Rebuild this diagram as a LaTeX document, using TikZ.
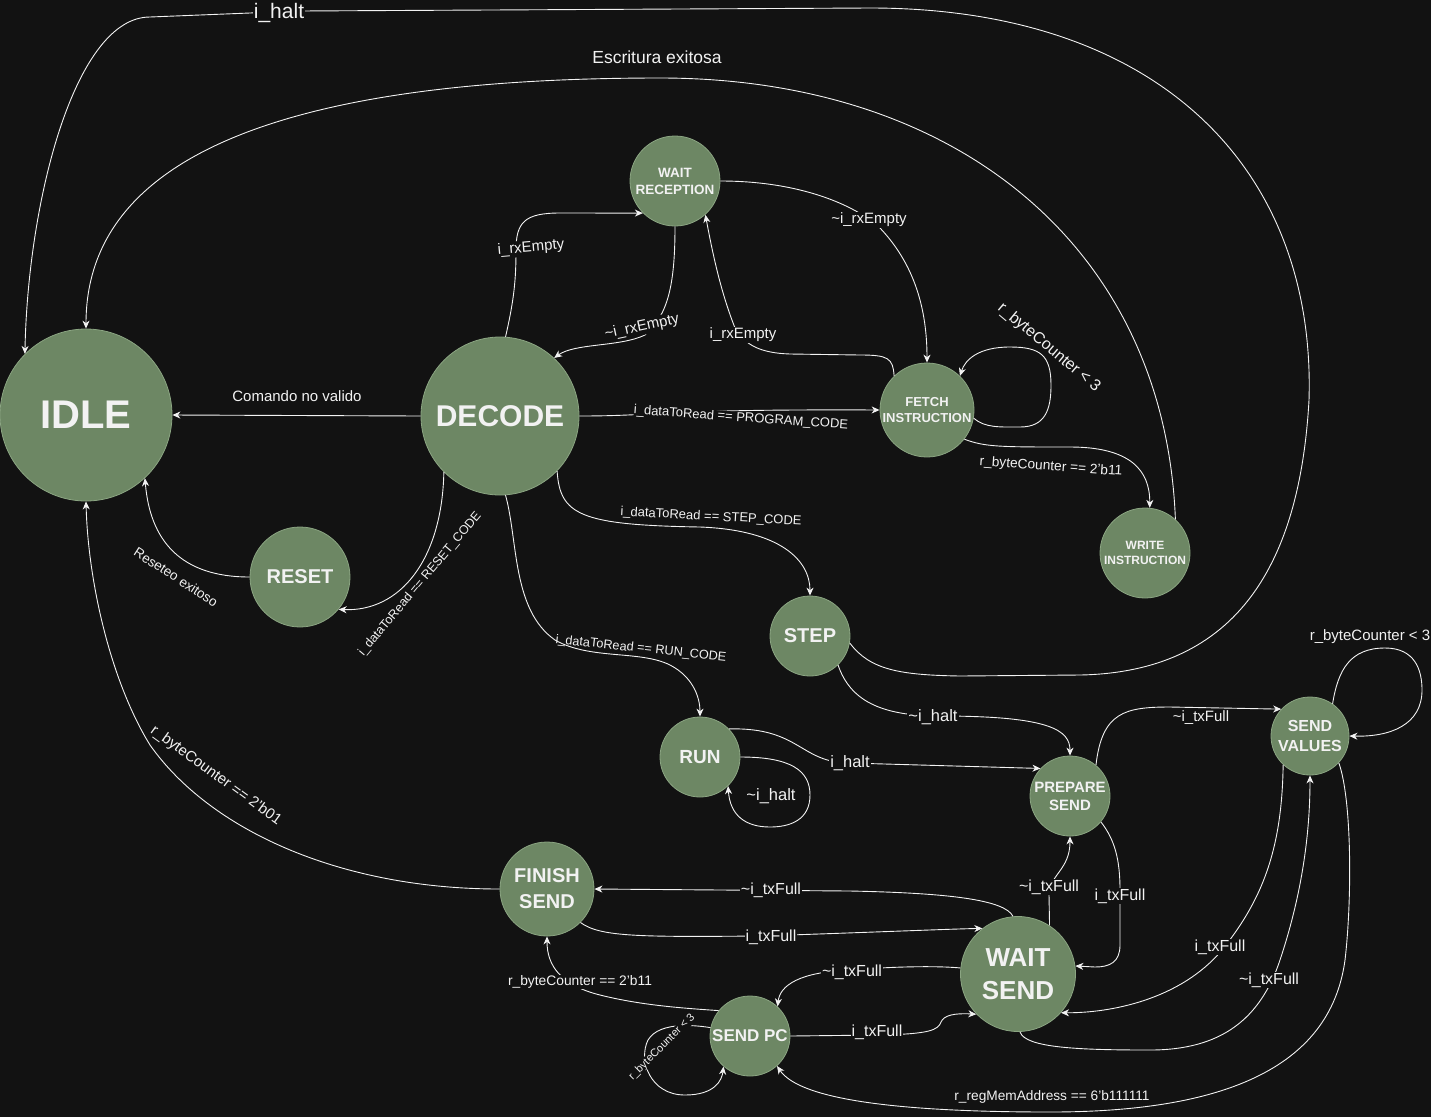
\documentclass[tikz,border=0pt]{standalone}
\usepackage{fontspec}
\setmainfont{Liberation Sans}
\usetikzlibrary{arrows.meta}

\definecolor{bg}{HTML}{121212}
\definecolor{statefill}{HTML}{6D8764}
\definecolor{stateline}{HTML}{8BA582}
\definecolor{ink}{HTML}{F2F2F2}

\newcommand\setfs[2]{\fontsize{#1pt}{#2pt}\selectfont}

\tikzset{
  state/.style={circle, fill=statefill, draw=stateline, line width=0.8pt,
    inner sep=0pt, text=ink, align=center},
  edge/.style={draw=ink, line width=0.9pt,
    -{Stealth[length=8pt,width=7pt,inset=2.5pt]}},
  lbl/.style={fill=bg, text=ink, inner sep=1pt, font=\setfs{15}{18}},
  tag/.style={text=ink, inner sep=1pt, font=\setfs{15}{18}},
}

\begin{document}
\begin{tikzpicture}[x=1pt,y=-1pt]
\useasboundingbox (0,0) rectangle (1431,1117);
\fill[bg] (0,0) rectangle (1431,1117);

% ---------- states ----------
\node[state, minimum size=172pt, font=\bfseries\setfs{40}{48}] (idle) at (86,415) {IDLE};
\node[state, minimum size=158pt, font=\bfseries\setfs{30}{36}] (decode) at (500,416) {DECODE};
\node[state, minimum size=90pt, font=\bfseries\setfs{13.5}{17}] (wr) at (675,181) {WAIT\\RECEPTION};
\node[state, minimum size=94pt, font=\bfseries\setfs{13}{16}] (fetch) at (927,410) {FETCH\\INSTRUCTION};
\node[state, minimum size=90pt, font=\bfseries\setfs{12}{15}] (write) at (1145,553) {WRITE\\INSTRUCTION};
\node[state, minimum size=100pt, font=\bfseries\setfs{20}{24}] (reset) at (300,577) {RESET};
\node[state, minimum size=80pt, font=\bfseries\setfs{20}{24}] (step) at (810,636) {STEP};
\node[state, minimum size=80pt, font=\bfseries\setfs{19}{23}] (run) at (700,757) {RUN};
\node[state, minimum size=80pt, font=\bfseries\setfs{15}{18}] (prep) at (1070,796) {PREPARE\\SEND};
\node[state, minimum size=78pt, font=\bfseries\setfs{16}{20}] (sv) at (1310,736) {SEND\\VALUES};
\node[state, minimum size=94pt, font=\bfseries\setfs{20}{26}] (fs) at (547,889) {FINISH\\SEND};
\node[state, minimum size=115pt, font=\bfseries\setfs{26}{33}] (ws) at (1018,974) {WAIT\\SEND};
\node[state, minimum size=80pt, font=\bfseries\setfs{17}{20}] (spc) at (750,1036) {SEND PC};

% ---------- transitions ----------
% STEP -> IDLE (outer loop over the top)
\draw[edge] (step.-10) .. controls (870,670) and (900,675) .. (960,676) -- (1080,675)
  .. controls (1240,672) and (1300,560) .. (1309,400)
  .. controls (1316,170) and (1160,8) .. (870,8) -- (300,11) -- (150,17)
  .. controls (75,17) and (28,200) .. (idle.135);
% WRITE INSTRUCTION -> IDLE
\draw[edge] (write.48) .. controls (1165,250) and (960,78) .. (660,78)
  .. controls (300,78) and (86,150) .. (idle.north);
% DECODE -> IDLE
\draw[edge] (decode.west) -- (idle.east);
% FINISH SEND -> IDLE
\draw[edge] (fs.west) .. controls (340,889) and (210,830) .. (150,745)
  .. controls (110,680) and (88,580) .. (idle.south);
% DECODE -> WAIT RECEPTION
\draw[edge] (decode.86) .. controls (514,300) and (516,280) .. (516,250)
  .. controls (516,222) and (525,213) .. (560,213) -- (wr.225);
% WAIT RECEPTION -> DECODE
\draw[edge] (wr.south) .. controls (675,285) and (668,315) .. (645,335)
  .. controls (620,347) and (575,343) .. (decode.47);
% FETCH -> WAIT RECEPTION
\draw[edge] (fetch.134) .. controls (893,358) and (888,355) .. (860,355) -- (790,354)
  .. controls (760,353) and (745,345) .. (735,328)
  .. controls (720,290) and (712,250) .. (wr.-48);
% WAIT RECEPTION -> FETCH
\draw[edge] (wr.east) .. controls (800,181) and (855,205) .. (880,228)
  .. controls (915,265) and (927,310) .. (fetch.north);
% DECODE -> FETCH
\draw[edge] (decode.east) .. controls (660,416) and (660,409) .. (fetch.west);
% FETCH self loop
\draw[edge] (fetch.-10) .. controls (985,428) and (1000,427) .. (1020,427)
  .. controls (1045,427) and (1051,410) .. (1051,385)
  .. controls (1051,355) and (1040,347) .. (1010,347)
  .. controls (978,347) and (965,360) .. (fetch.46);
% FETCH -> WRITE
\draw[edge] (fetch.-38) .. controls (985,447) and (1000,447) .. (1070,447)
  .. controls (1130,447) and (1150,470) .. (write.84);
% DECODE -> RESET
\draw[edge] (decode.225) .. controls (442,560) and (400,612) .. (reset.-40);
% RESET -> IDLE
\draw[edge] (reset.west) .. controls (180,577) and (150,540) .. (idle.-47);
% DECODE -> STEP
\draw[edge] (decode.-44) .. controls (560,515) and (580,525) .. (700,527)
  .. controls (780,530) and (810,560) .. (step.north);
% DECODE -> RUN
\draw[edge] (decode.-86) .. controls (518,540) and (512,610) .. (555,640)
  .. controls (590,660) and (640,650) .. (670,665)
  .. controls (695,678) and (700,700) .. (run.north);
% STEP -> PREPARE SEND
\draw[edge] (step.-46) .. controls (850,700) and (880,716) .. (940,716)
  .. controls (1050,716) and (1070,730) .. (prep.north);
% RUN -> PREPARE SEND
\draw[edge] (run.44) .. controls (800,727) and (800,763) .. (850,763) -- (prep.137);
% RUN self loop
\draw[edge] (run.east) .. controls (790,757) and (810,770) .. (810,795)
  .. controls (810,820) and (790,827) .. (770,827)
  .. controls (745,827) and (730,815) .. (run.-46);
% PREPARE SEND -> SEND VALUES
\draw[edge] (prep.50) .. controls (1102,712) and (1125,707) .. (1170,707) -- (sv.137);
% SEND VALUES self loop
\draw[edge] (sv.55) .. controls (1338,670) and (1350,648) .. (1385,648)
  .. controls (1415,648) and (1422,670) .. (1422,690)
  .. controls (1422,725) and (1390,737) .. (sv.east);
% PREPARE SEND -> WAIT SEND
\draw[edge] (prep.-40) .. controls (1115,840) and (1120,860) .. (1120,890) -- (1120,945)
  .. controls (1120,962) and (1110,967) .. (1095,967) -- (ws.8);
% WAIT SEND -> PREPARE SEND
\draw[edge] (ws.57) -- (1049,895) .. controls (1049,875) and (1070,870) .. (prep.south);
% WAIT SEND -> FINISH SEND
\draw[edge] (ws.95) .. controls (1005,900) and (950,893) .. (850,891) -- (fs.east);
% FINISH SEND -> WAIT SEND
\draw[edge] (fs.-45) .. controls (600,937) and (640,937) .. (760,936)
  .. controls (880,932) and (950,929) .. (ws.128);
% WAIT SEND -> SEND PC
\draw[edge] (ws.174) .. controls (940,966) and (900,966) .. (850,970)
  .. controls (800,972) and (780,985) .. (spc.47);
% SEND PC -> WAIT SEND
\draw[edge] (spc.east) -- (880,1035) .. controls (930,1034) and (938,1030) .. (941,1022)
  .. controls (944,1015) and (955,1013) .. (ws.224);
% SEND PC -> FINISH SEND
\draw[edge] (spc.141) .. controls (680,1008) and (640,1005) .. (600,995)
  .. controls (560,985) and (547,965) .. (fs.south);
% SEND PC self loop
\draw[edge] (spc.168) .. controls (700,1026) and (660,1020) .. (648,1040)
  .. controls (638,1060) and (650,1095) .. (685,1095)
  .. controls (715,1095) and (722,1080) .. (spc.229);
% SEND VALUES -> WAIT SEND
\draw[edge] (sv.227) .. controls (1282,850) and (1262,900) .. (1222,950)
  .. controls (1180,1000) and (1110,1013) .. (ws.-42);
% WAIT SEND -> SEND VALUES
\draw[edge] (ws.-88) .. controls (1025,1048) and (1080,1050) .. (1150,1050)
  .. controls (1220,1050) and (1260,1020) .. (1280,960)
  .. controls (1300,900) and (1310,840) .. (sv.south);
% SEND VALUES -> SEND PC
\draw[edge] (sv.-43) .. controls (1352,800) and (1352,900) .. (1345,960)
  .. controls (1330,1070) and (1220,1112) .. (1050,1112)
  .. controls (900,1112) and (800,1100) .. (spc.-48);

% ---------- transition labels ----------
\node[lbl, font=\setfs{21}{24}] (l1) at (279,13) {i\_halt};
\node[tag, font=\setfs{17.5}{20}] (l2) at (657,57) {Escritura exitosa};
\node[tag] (l3) at (297,396) {Comando no valido};
\node[lbl, rotate=5] (l4) at (531,248) {i\_rxEmpty};
\node[lbl, rotate=12] (l5) at (642,327) {\textasciitilde i\_rxEmpty};
\node[lbl] (l6) at (743,335) {i\_rxEmpty};
\node[lbl] (l7) at (869,220) {\textasciitilde i\_rxEmpty};
\node[lbl, inner sep=0pt, rotate=-4, font=\setfs{13}{15}] (l8) at (741,418) {i\_dataToRead == PROGRAM\_CODE};
\node[tag, rotate=-40, font=\setfs{16}{18}] (l9) at (1049,348) {r\_byteCounter < 3};
\node[tag, rotate=-4, font=\setfs{13.7}{16}] (l10) at (1051,467) {r\_byteCounter == 2'b11};
\node[lbl, rotate=50, inner sep=0.5pt, font=\setfs{12.5}{15}] (l11) at (420,584) {i\_dataToRead == RESET\_CODE};
\node[tag, rotate=-33, font=\setfs{13.5}{16}] (l12) at (176,577) {Reseteo exitoso};
\node[tag, rotate=-3, font=\setfs{13}{15}] (l13) at (711,517) {i\_dataToRead == STEP\_CODE};
\node[tag, rotate=-6, font=\setfs{12.7}{15}] (l14) at (641,649) {i\_dataToRead == RUN\_CODE};
\node[tag, rotate=-36, font=\setfs{15}{18}] (l15) at (216,776) {r\_byteCounter == 2'b01};
\node[lbl, font=\setfs{16.5}{19}] (l16) at (933,717) {\textasciitilde i\_halt};
\node[lbl, font=\setfs{16.5}{19}] (l17) at (850,763) {i\_halt};
\node[lbl, font=\setfs{16.5}{19}] (l18) at (771,796) {\textasciitilde i\_halt};
\node[tag] (l19) at (1201,718) {\textasciitilde i\_txFull};
\node[tag] (l20) at (1370,637) {r\_byteCounter < 3};
\node[lbl, font=\setfs{16}{19}] (l21) at (1120,896) {i\_txFull};
\node[lbl, font=\setfs{16}{19}] (l22) at (1049,887) {\textasciitilde i\_txFull};
\node[lbl, font=\setfs{16}{19}] (l23) at (771,890) {\textasciitilde i\_txFull};
\node[lbl, font=\setfs{16}{19}] (l24) at (771,937) {i\_txFull};
\node[lbl, font=\setfs{16}{19}] (l25) at (852,972) {\textasciitilde i\_txFull};
\node[lbl, font=\setfs{16}{19}] (l26) at (877,1032) {i\_txFull};
\node[lbl, font=\setfs{13.8}{16}] (l27) at (580,982) {r\_byteCounter == 2'b11};
\node[lbl, rotate=45, inner sep=0.5pt, font=\setfs{11}{13}] (l28) at (662,1047) {r\_byteCounter < 3};
\node[lbl, font=\setfs{16}{19}] (l29) at (1220,947) {i\_txFull};
\node[lbl, font=\setfs{16}{19}] (l30) at (1269,980) {\textasciitilde i\_txFull};
\node[tag, font=\setfs{13.7}{16}] (l31) at (1052,1097) {r\_regMemAddress == 6'b111111};
\end{tikzpicture}
\end{document}
